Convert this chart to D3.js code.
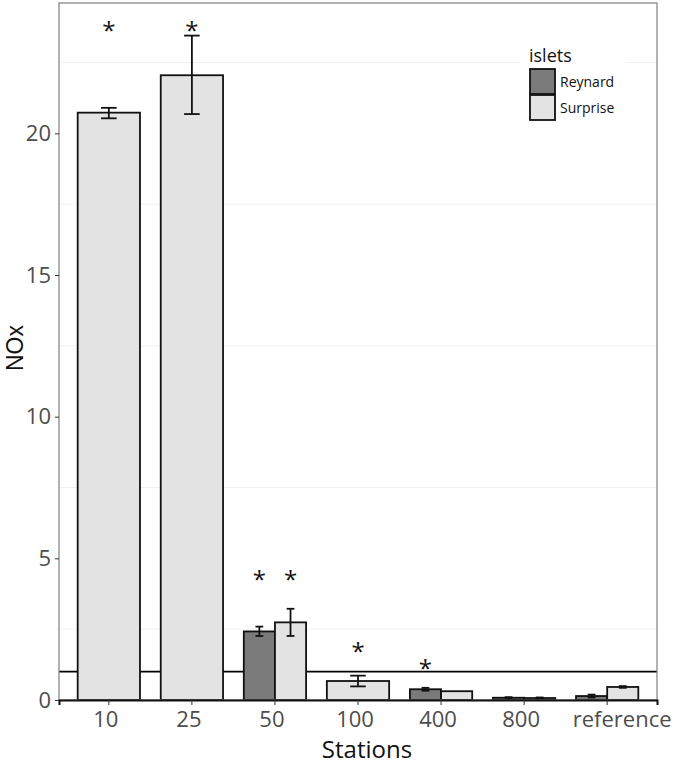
<!DOCTYPE html>
<html>
<head>
<meta charset="utf-8">
<script src="https://cdn.jsdelivr.net/npm/d3@7"></script>
<style>
  body { margin: 0; background: #fff; }
  svg { display: block; font-family: "Open Sans", sans-serif; }
</style>
</head>
<body>
<div id="chart"></div>
<script>
// stations along the x axis
const stations = ["10", "25", "50", "100", "400", "800", "reference"];
// the two islets (legend groups)
const islets = ["Reynard", "Surprise"];
// mean NOx and error bar ends per station, null where there is no bar
const reynardMean = [null, null, 2.42, null, 0.38, 0.08, 0.14];
const reynardLo   = [null, null, 2.26, null, 0.33, 0.06, 0.09];
const reynardHi   = [null, null, 2.59, null, 0.43, 0.10, 0.19];
const surpriseMean = [20.73, 22.05, 2.74, 0.67, 0.31, 0.07, 0.46];
const surpriseLo   = [20.53, 20.68, 2.26, 0.48, null, 0.05, 0.43];
const surpriseHi   = [20.90, 23.45, 3.22, 0.86, null, 0.09, 0.49];
// significance asterisks
const starStations = ["10", "25", "50", "50", "100", "400"];
const starIslets   = ["Surprise", "Surprise", "Reynard", "Surprise", "Surprise", "Reynard"];
const starValues   = [23.8, 23.8, 4.4, 4.4, 1.87, 1.27];
// reference line
const refLine = 1;
const yTicks = [0, 5, 10, 15, 20];
const yMinor = [2.5, 7.5, 12.5, 17.5, 22.5];

const width = 675, height = 764;
const margin = {top: 3, right: 18, bottom: 64, left: 59};
const colors = {Reynard: "#7a7a7a", Surprise: "#e3e3e3"};

const svg = d3.select("#chart").append("svg")
    .attr("width", width)
    .attr("height", height);

// scales
const x = d3.scaleBand()
    .domain(stations)
    .range([margin.left, width - margin.right])
    .paddingInner(0.25)
    .paddingOuter(0.225);

const y = d3.scaleLinear()
    .domain([0, 24.6])
    .range([height - margin.bottom, margin.top]);

// build rows: one per drawn bar
const series = {
    Reynard: {mean: reynardMean, lo: reynardLo, hi: reynardHi},
    Surprise: {mean: surpriseMean, lo: surpriseLo, hi: surpriseHi}
};
let rows = [];
stations.forEach((s, i) => {
    let present = islets.filter(k => series[k].mean[i] != null);
    present.forEach((k, j) => {
        let w = x.bandwidth() / present.length;
        rows.push({
            station: s, islet: k,
            x0: x(s) + j * w, w: w,
            mean: series[k].mean[i], lo: series[k].lo[i], hi: series[k].hi[i]
        });
    });
});

// minor gridlines
svg.append("g").selectAll("line")
    .data(yMinor)
    .enter().append("line")
    .attr("x1", margin.left).attr("x2", width - margin.right)
    .attr("y1", d => y(d)).attr("y2", d => y(d))
    .attr("stroke", "#f0f0f0").attr("stroke-width", 1);

// horizontal reference line (behind bars)
svg.append("line")
    .attr("x1", margin.left).attr("x2", width - margin.right)
    .attr("y1", y(refLine)).attr("y2", y(refLine))
    .attr("stroke", "#000").attr("stroke-width", 1.6);

// bars
svg.append("g").selectAll("rect")
    .data(rows)
    .enter().append("rect")
    .attr("x", d => d.x0)
    .attr("width", d => d.w)
    .attr("y", d => y(d.mean))
    .attr("height", d => y(0) - y(d.mean))
    .attr("fill", d => colors[d.islet])
    .attr("stroke", "#111")
    .attr("stroke-width", 1.8);

// error bars
let eb = svg.append("g").selectAll("g")
    .data(rows.filter(d => d.lo != null))
    .enter().append("g")
    .attr("stroke", "#111").attr("stroke-width", 1.8);
eb.append("line")
    .attr("x1", d => d.x0 + d.w / 2).attr("x2", d => d.x0 + d.w / 2)
    .attr("y1", d => y(d.lo)).attr("y2", d => y(d.hi));
eb.append("line")
    .attr("x1", d => d.x0 + d.w * 0.375).attr("x2", d => d.x0 + d.w * 0.625)
    .attr("y1", d => y(d.lo)).attr("y2", d => y(d.lo));
eb.append("line")
    .attr("x1", d => d.x0 + d.w * 0.375).attr("x2", d => d.x0 + d.w * 0.625)
    .attr("y1", d => y(d.hi)).attr("y2", d => y(d.hi));

// asterisks
svg.append("g").selectAll("text")
    .data(starStations.map((s, i) => ({station: s, islet: starIslets[i], v: starValues[i]})))
    .enter().append("text")
    .attr("x", d => {
        let r = rows.find(q => q.station === d.station && q.islet === d.islet);
        return r.x0 + r.w / 2;
    })
    .attr("y", d => y(d.v) + 13)
    .attr("text-anchor", "middle")
    .attr("font-size", "24px")
    .attr("fill", "#111")
    .text("*");

// panel border
svg.append("rect")
    .attr("x", margin.left).attr("y", margin.top)
    .attr("width", width - margin.left - margin.right)
    .attr("height", height - margin.top - margin.bottom)
    .attr("fill", "none").attr("stroke", "#7f7f7f").attr("stroke-width", 1.2);

// y axis
let yAxis = svg.append("g")
    .attr("transform", `translate(${margin.left},0)`)
    .call(d3.axisLeft(y).tickValues(yTicks).tickSize(4).tickPadding(4).tickFormat(d3.format("d")));
yAxis.select(".domain").remove();
yAxis.selectAll(".tick line").attr("stroke", "#333");
yAxis.selectAll("text").attr("font-size", "22px").attr("fill", "#4d4d4d").attr("font-family", "Open Sans");

// x axis
let xAxis = svg.append("g")
    .attr("transform", `translate(0,${y(0)})`)
    .call(d3.axisBottom(x).tickSize(5).tickPadding(6.5));
xAxis.select(".domain").attr("stroke", "#111").attr("stroke-width", 2);
xAxis.selectAll(".tick line").attr("stroke", "#333");
xAxis.selectAll("text")
    .attr("font-size", "22px").attr("fill", "#4d4d4d").attr("font-family", "Open Sans")
    .attr("dx", d => d === "reference" ? 15 : -3);

// axis titles
svg.append("text")
    .attr("x", 367).attr("y", 758)
    .attr("text-anchor", "middle")
    .attr("font-size", "24px").attr("fill", "#111")
    .text("Stations");
svg.append("text")
    .attr("transform", `translate(23,348) rotate(-90)`)
    .attr("text-anchor", "middle")
    .style("font-family", "'Liberation Sans', Arial, sans-serif")
    .attr("font-size", "23px").attr("fill", "#111")
    .text("NOx");

// legend
let legend = svg.append("g").attr("transform", "translate(520,45)");
legend.append("rect")
    .attr("width", 107).attr("height", 80)
    .attr("fill", "#fff");
legend.append("text")
    .attr("x", 9).attr("y", 17)
    .attr("font-size", "18px").attr("fill", "#111")
    .text("islets");
let keys = legend.selectAll(".key")
    .data(islets)
    .enter().append("g")
    .attr("class", "key")
    .attr("transform", (d, i) => `translate(10,${24 + i * 26})`);
keys.append("rect")
    .attr("width", 25).attr("height", 25)
    .attr("fill", d => colors[d])
    .attr("stroke", "#111").attr("stroke-width", 1.8);
keys.append("text")
    .attr("x", 30).attr("y", 18)
    .attr("font-size", "14px").attr("fill", "#111")
    .text(d => d);
</script>
</body>
</html>
